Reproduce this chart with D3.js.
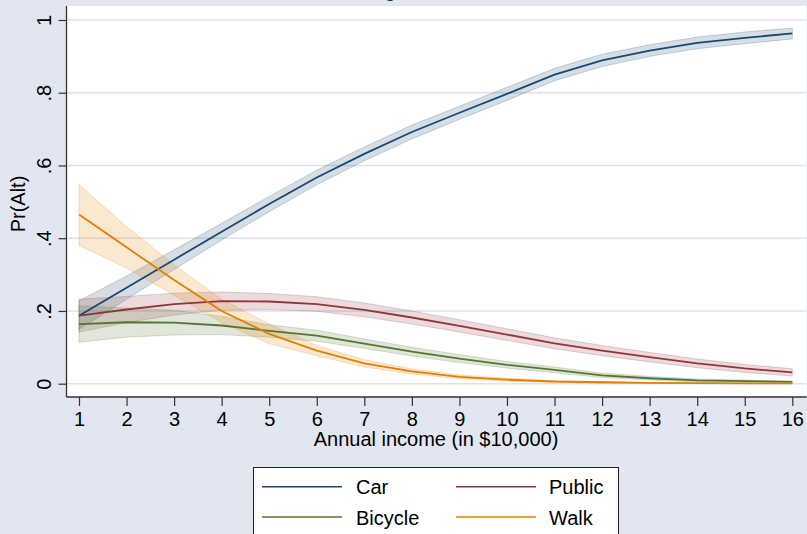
<!DOCTYPE html>
<html>
<head>
<meta charset="utf-8">
<script src="https://cdn.jsdelivr.net/npm/d3@7"></script>
<style>
  html, body { margin: 0; padding: 0; background: #E1E6F0; }
  svg { display: block; font-family: "Liberation Sans", Arial, sans-serif; }
</style>
</head>
<body>
<svg id="chart" width="807" height="534"></svg>
<script>
// Annual income (in $10,000) at which the margins are evaluated
const income = [1, 2, 3, 4, 5, 6, 7, 8, 9, 10, 11, 12, 13, 14, 15, 16];

// Predicted probability of each travel mode, with 95% confidence limits
const carPr   = [0.187, 0.264, 0.341, 0.418, 0.494, 0.567, 0.632, 0.692, 0.745, 0.797, 0.850, 0.889, 0.916, 0.937, 0.951, 0.963];
const carLo   = [0.150, 0.232, 0.314, 0.395, 0.473, 0.547, 0.613, 0.673, 0.727, 0.779, 0.833, 0.872, 0.900, 0.921, 0.935, 0.948];
const carHi   = [0.228, 0.296, 0.368, 0.441, 0.515, 0.587, 0.651, 0.711, 0.763, 0.815, 0.867, 0.906, 0.932, 0.953, 0.967, 0.978];

const publicPr = [0.187, 0.204, 0.219, 0.227, 0.226, 0.219, 0.203, 0.182, 0.159, 0.135, 0.111, 0.091, 0.073, 0.056, 0.042, 0.031];
const publicLo = [0.142, 0.168, 0.189, 0.202, 0.204, 0.199, 0.184, 0.164, 0.142, 0.119, 0.096, 0.077, 0.060, 0.044, 0.031, 0.021];
const publicHi = [0.232, 0.240, 0.249, 0.252, 0.248, 0.239, 0.222, 0.200, 0.176, 0.151, 0.126, 0.105, 0.086, 0.068, 0.053, 0.041];

const bicyclePr = [0.164, 0.169, 0.168, 0.160, 0.145, 0.132, 0.110, 0.088, 0.069, 0.052, 0.038, 0.023, 0.015, 0.009, 0.007, 0.005];
const bicycleLo = [0.114, 0.128, 0.134, 0.135, 0.128, 0.117, 0.097, 0.076, 0.058, 0.043, 0.030, 0.017, 0.010, 0.005, 0.004, 0.003];
const bicycleHi = [0.214, 0.208, 0.202, 0.185, 0.162, 0.147, 0.123, 0.100, 0.080, 0.061, 0.046, 0.029, 0.020, 0.013, 0.010, 0.007];

const walkPr = [0.465, 0.375, 0.285, 0.200, 0.137, 0.091, 0.056, 0.034, 0.019, 0.011, 0.006, 0.004, 0.002, 0.0015, 0.001, 0.0007];
const walkLo = [0.380, 0.318, 0.243, 0.168, 0.110, 0.077, 0.046, 0.027, 0.014, 0.007, 0.004, 0.002, 0.001, 0.0005, 0.0003, 0.0002];
const walkHi = [0.548, 0.432, 0.327, 0.232, 0.164, 0.105, 0.066, 0.041, 0.024, 0.015, 0.008, 0.006, 0.003, 0.0025, 0.0017, 0.0012];

const yTicks = [0, 0.2, 0.4, 0.6, 0.8, 1];
const yTickLabels = ["0", ".2", ".4", ".6", ".8", "1"];

const seriesNames  = ["Car", "Public", "Bicycle", "Walk"];
const seriesColors = ["#1A476F", "#90353B", "#55752F", "#E37E00"];

const series = [
  { name: seriesNames[0], color: seriesColors[0], pr: carPr,     lo: carLo,     hi: carHi },
  { name: seriesNames[1], color: seriesColors[1], pr: publicPr,  lo: publicLo,  hi: publicHi },
  { name: seriesNames[2], color: seriesColors[2], pr: bicyclePr, lo: bicycleLo, hi: bicycleHi },
  { name: seriesNames[3], color: seriesColors[3], pr: walkPr,    lo: walkLo,    hi: walkHi }
];

const svg = d3.select("#chart");
const W = 807, H = 534;

// Plot region
const plot = { left: 66.5, right: 806.5, top: 6, bottom: 397 };

const x = d3.scaleLinear().domain([1, 16]).range([79, 792.3]);
const y = d3.scaleLinear().domain([0, 1]).range([383.7, 20]);

svg.append("rect").attr("width", W).attr("height", H).attr("fill", "#E1E6F0");
svg.append("rect")
  .attr("x", plot.left).attr("y", plot.top)
  .attr("width", plot.right - plot.left).attr("height", plot.bottom - plot.top)
  .attr("fill", "#FFFFFF");

// Title (sits above the top edge)
svg.append("text")
  .attr("x", 400).attr("y", -3)
  .attr("text-anchor", "middle")
  .attr("font-size", 20)
  .attr("fill", "#1E2D4F")
  .text("Predictive Margins with 95% CIs");

// Horizontal grid lines
svg.append("g").selectAll("line")
  .data(yTicks)
  .join("line")
  .attr("x1", plot.left + 1).attr("x2", plot.right)
  .attr("y1", d => y(d)).attr("y2", d => y(d))
  .attr("stroke", "#DCE2EE")
  .attr("stroke-width", 1.5);

// Confidence bands
const area = d3.area()
  .x((d, i) => x(income[i]))
  .y0(d => y(d[0]))
  .y1(d => y(d[1]));

const bands = svg.append("g");
series.forEach(s => {
  const pts = s.lo.map((v, i) => [v, s.hi[i]]);
  bands.append("path")
    .datum(pts)
    .attr("d", area)
    .attr("fill", s.color)
    .attr("fill-opacity", 0.18)
    .attr("stroke", s.color)
    .attr("stroke-opacity", 0.22)
    .attr("stroke-width", 1);
});

// Predicted probability lines
const line = d3.line()
  .x((d, i) => x(income[i]))
  .y(d => y(d));

const lines = svg.append("g");
series.forEach(s => {
  lines.append("path")
    .datum(s.pr)
    .attr("d", line)
    .attr("fill", "none")
    .attr("stroke", s.color)
    .attr("stroke-width", 1.8)
    .attr("stroke-linejoin", "round");
});

// Axes
const axisColor = "#333333";

const yAxis = svg.append("g")
  .attr("transform", `translate(${plot.left},0)`)
  .call(d3.axisLeft(y).tickValues(yTicks).tickSize(8).tickSizeOuter(0)
    .tickFormat((d, i) => yTickLabels[i]));
yAxis.select(".domain").remove();
yAxis.selectAll(".tick line").attr("stroke", axisColor).attr("stroke-width", 1.2);
yAxis.selectAll(".tick text")
  .attr("transform", "rotate(-90)")
  .attr("x", 0).attr("y", -16).attr("dy", 0)
  .attr("text-anchor", "middle")
  .attr("font-size", 20)
  .attr("font-family", "Liberation Sans, Arial, sans-serif")
  .attr("fill", "#000");

const xAxis = svg.append("g")
  .attr("transform", `translate(0,${plot.bottom})`)
  .call(d3.axisBottom(x).tickValues(income).tickSize(9).tickSizeOuter(0)
    .tickFormat(d3.format("d")));
xAxis.select(".domain").remove();
xAxis.selectAll(".tick line").attr("stroke", axisColor).attr("stroke-width", 1.2);
xAxis.selectAll(".tick text")
  .attr("y", 29).attr("dy", 0)
  .attr("font-size", 20)
  .attr("font-family", "Liberation Sans, Arial, sans-serif")
  .attr("fill", "#000");

// Axis lines
svg.append("line")
  .attr("x1", plot.left).attr("x2", plot.left)
  .attr("y1", plot.top).attr("y2", plot.bottom)
  .attr("stroke", axisColor).attr("stroke-width", 1.3);
svg.append("line")
  .attr("x1", plot.left).attr("x2", plot.right)
  .attr("y1", plot.bottom).attr("y2", plot.bottom)
  .attr("stroke", axisColor).attr("stroke-width", 1.3);

// Axis titles
svg.append("text")
  .attr("x", 436).attr("y", 446)
  .attr("text-anchor", "middle")
  .attr("font-size", 20)
  .attr("fill", "#000")
  .text("Annual income (in $10,000)");

svg.append("text")
  .attr("transform", "translate(25,204) rotate(-90)")
  .attr("text-anchor", "middle")
  .attr("font-size", 20)
  .attr("fill", "#000")
  .text("Pr(Alt)");

// Legend
const legend = svg.append("g");
legend.append("rect")
  .attr("x", 253.5).attr("y", 467.5)
  .attr("width", 365).attr("height", 100)
  .attr("fill", "#FFFFFF")
  .attr("stroke", "#222").attr("stroke-width", 1);

const keyX = [262, 456];
const textX = [356, 549];
const rowY = [486.7, 517];
series.forEach((s, i) => {
  const col = i % 2, row = Math.floor(i / 2);
  legend.append("line")
    .attr("x1", keyX[col]).attr("x2", keyX[col] + 80)
    .attr("y1", rowY[row]).attr("y2", rowY[row])
    .attr("stroke", s.color).attr("stroke-width", 1.6);
  legend.append("text")
    .attr("x", textX[col]).attr("y", rowY[row] + 7.5)
    .attr("font-size", 20)
    .attr("fill", "#000")
    .text(s.name);
});
</script>
</body>
</html>
